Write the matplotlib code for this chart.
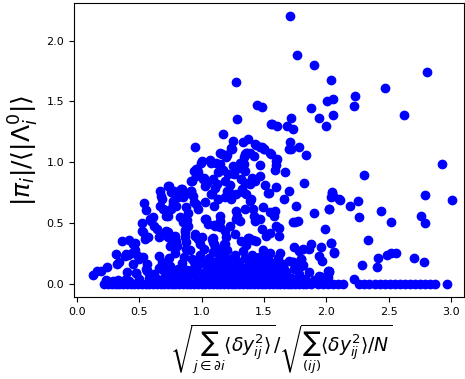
import numpy as np
import matplotlib
matplotlib.use('Agg')
import matplotlib.pyplot as plt

# points that sit exactly on zero
x_zero = [0.22, 0.25, 0.28, 0.31, 0.34, 0.37, 0.40, 0.43, 0.46, 0.49, 0.52, 0.55,
          0.58, 0.61, 0.64, 0.67, 0.70, 0.73, 0.76, 0.79, 0.82, 0.85, 0.88, 0.91,
          0.94, 0.97, 1.00, 1.03, 1.06, 1.09, 1.12, 1.15, 1.18, 1.21, 1.24, 1.27,
          1.30, 1.33, 1.36, 1.39, 1.42, 1.45, 1.48, 1.51, 1.54, 1.57, 1.60, 1.63,
          1.66, 1.69, 1.72, 1.75, 1.78, 1.81, 1.84, 1.88, 1.93, 1.97, 2.01, 2.05,
          2.09, 2.13, 2.26, 2.30, 2.34, 2.39, 2.43, 2.47, 2.51, 2.55, 2.59, 2.63,
          2.67, 2.71, 2.75, 2.79, 2.83, 2.87, 2.97]

# dense band just above zero
x_low = [0.13, 0.16, 0.19, 0.23, 0.26, 0.29, 0.33, 0.36, 0.39, 0.42, 0.40, 0.34, 0.45,
         0.47, 0.50, 0.55, 0.56, 0.56, 0.58, 0.61, 0.62, 0.64, 0.66, 0.66, 0.68, 0.70,
         0.72, 0.74, 0.75, 0.77, 0.78, 0.79, 0.81, 0.82, 0.84, 0.86, 0.87, 0.88, 0.91,
         0.92, 0.94, 0.95, 0.96, 0.98, 0.99, 1.01, 1.02, 1.03, 1.04, 1.05, 1.06, 1.07,
         1.08, 1.09, 1.10, 1.11, 1.12, 1.13, 1.14, 1.15, 1.16, 1.17, 1.18, 1.19, 1.20,
         1.21, 1.22, 1.23, 1.24, 1.25, 1.26, 1.27, 1.28, 1.29, 1.30, 1.31, 1.32, 1.33,
         1.34, 1.35, 1.36, 1.37, 1.38, 1.39, 1.40, 1.41, 1.42, 1.43, 1.44, 1.45, 1.46,
         1.47, 1.48, 1.49, 1.50, 1.51, 1.52, 1.53, 1.54, 1.55, 1.56, 1.57, 1.58, 1.60,
         1.61, 1.62, 1.64, 1.65, 1.67, 1.68, 1.70, 1.72, 1.74, 1.76, 1.78, 1.80, 1.83,
         1.86, 1.90, 1.94, 2.00, 0.98, 1.03, 1.08, 1.13, 1.18, 1.23, 1.28, 1.33, 1.38,
         1.43, 1.48, 1.53, 1.58, 1.63, 1.45, 1.35, 1.25, 1.15, 1.05, 0.93, 0.85, 0.76,
         0.69, 1.40, 1.50, 1.20, 1.10, 1.30, 1.55, 1.60, 1.66, 0.24, 0.32, 0.47, 0.56,
         2.22, 2.02, 2.01, 1.96, 1.73, 1.80, 1.81]
y_low = [0.074, 0.101, 0.107, 0.035, 0.015, 0.02, 0.03, 0.015, 0.04, 0.02, 0.10, 0.18,
         0.16, 0.09, 0.04, 0.12, 0.16, 0.11, 0.05, 0.02, 0.08, 0.04, 0.23, 0.13, 0.18,
         0.05, 0.10, 0.21, 0.15, 0.03, 0.08, 0.25, 0.12, 0.06, 0.17, 0.22, 0.03, 0.11,
         0.07, 0.20, 0.18, 0.14, 0.04, 0.09, 0.24, 0.02, 0.29, 0.18, 0.12, 0.06, 0.21,
         0.03, 0.15, 0.26, 0.09, 0.04, 0.19, 0.12, 0.07, 0.23, 0.02, 0.16, 0.10, 0.05,
         0.28, 0.13, 0.03, 0.20, 0.08, 0.15, 0.05, 0.24, 0.11, 0.02, 0.18, 0.07, 0.13,
         0.27, 0.04, 0.21, 0.09, 0.15, 0.02, 0.11, 0.24, 0.06, 0.18, 0.13, 0.03, 0.09,
         0.22, 0.15, 0.05, 0.28, 0.11, 0.19, 0.02, 0.08, 0.14, 0.25, 0.05, 0.17, 0.10,
         0.03, 0.21, 0.12, 0.07, 0.16, 0.03, 0.10, 0.19, 0.05, 0.12, 0.02, 0.08, 0.15,
         0.04, 0.10, 0.03, 0.06, 0.02, 0.16, 0.10, 0.06, 0.17, 0.21, 0.12, 0.18, 0.09,
         0.17, 0.07, 0.19, 0.23, 0.16, 0.25, 0.04, 0.03, 0.01, 0.12, 0.15, 0.12, 0.08,
         0.05, 0.11, 0.14, 0.06, 0.07, 0.13, 0.11, 0.01, 0.09, 0.12, 0.137, 0.166,
         0.09, 0.109, 0.041, 0.109, 0.055, 0.055, 0.178, 0.205, 0.156]

# middle of the cloud
x_mid = [0.317, 0.365, 0.419, 0.387, 0.413, 0.451, 0.467, 0.491, 0.499, 0.531, 0.464,
         0.445, 0.397, 0.536, 0.557, 0.52, 0.525, 0.547, 0.571, 0.531, 0.589, 0.611,
         0.597, 0.616, 0.643, 0.659, 0.664, 0.664, 0.675, 0.664, 0.685, 0.691, 0.704,
         0.712, 0.739, 0.776, 0.717, 0.733, 0.744, 0.771, 0.797, 0.792, 0.803, 0.845,
         0.851, 0.872, 0.891, 0.883, 0.869, 0.864, 0.877, 0.917, 0.931, 0.936, 0.925,
         0.952, 0.944, 0.957, 0.971, 0.997, 1.011, 1.024, 1.032, 0.757, 0.811, 0.864,
         0.771, 0.752, 0.731, 0.957, 0.971, 1.024, 1.077, 1.099, 1.237, 1.277, 1.331,
         1.384, 1.344, 1.285, 0.824, 0.851, 0.891, 0.869, 1.024, 1.051, 1.104, 1.144,
         1.184, 1.224, 0.731, 0.757, 0.784, 0.797, 0.877, 0.904, 0.944, 0.971, 1.085,
         1.099, 1.144, 1.179, 1.315, 1.355, 1.37, 1.237, 1.205, 1.163, 1.197, 1.349,
         1.339, 1.339, 1.344, 1.005, 1.077, 1.117, 0.96, 0.939, 1.144, 1.171, 1.131,
         1.211, 1.251, 1.277, 1.259, 1.019, 1.045, 0.917, 1.091, 1.125, 1.104, 1.184,
         1.224, 1.205, 1.312, 1.349, 1.384, 1.403, 0.731, 0.779, 0.837, 0.912, 1.424,
         1.419, 1.384, 1.597, 1.592, 1.584, 1.469, 1.672, 1.424, 1.469, 1.504, 1.592,
         1.824, 1.699, 1.531, 2.045, 1.304, 1.331, 1.085, 1.131, 1.184, 1.219, 1.325,
         1.357, 1.397, 1.539, 1.664, 1.757, 1.904, 2.019, 2.037, 1.992, 1.771, 1.752,
         1.096, 1.144, 1.149, 1.272, 1.277, 1.304, 1.411, 1.416, 1.424, 1.464, 1.491,
         1.544, 1.584, 1.576, 1.592, 1.485, 1.517, 1.544, 1.624, 1.619, 1.264, 1.197,
         1.184, 1.089, 1.089, 1.109, 1.0, 0.987, 1.379, 1.411, 1.437, 2.104, 1.731,
         2.037, 2.064, 1.877, 1.864, 1.957, 1.944, 1.965, 1.744, 1.784, 1.81, 1.731,
         1.797, 1.805, 2.011, 1.957]
y_mid = [0.248, 0.35, 0.363, 0.227, 0.238, 0.328, 0.281, 0.232, 0.2, 0.219, 0.336,
         0.251, 0.246, 0.664, 0.607, 0.5, 0.437, 0.369, 0.383, 0.424, 0.533, 0.546,
         0.519, 0.478, 0.451, 0.383, 0.396, 0.765, 0.719, 0.642, 0.697, 0.615, 0.607,
         0.56, 0.806, 0.757, 0.437, 0.383, 0.314, 0.683, 0.642, 0.355, 0.314, 0.779,
         0.711, 0.628, 0.582, 0.527, 0.443, 0.383, 0.287, 0.765, 0.724, 0.67, 0.847,
         0.883, 0.41, 0.943, 0.92, 0.997, 0.861, 0.806, 0.533, 0.752, 0.711, 0.738,
         0.656, 0.615, 0.56, 0.656, 0.615, 0.67, 0.738, 0.642, 0.697, 0.738, 0.752,
         0.683, 0.615, 0.56, 0.546, 0.506, 0.478, 0.424, 0.533, 0.492, 0.478, 0.465,
         0.437, 0.478, 0.424, 0.369, 0.396, 0.328, 0.342, 0.279, 0.396, 0.369, 0.369,
         0.328, 0.287, 0.328, 0.356, 0.315, 0.38, 1.115, 1.057, 1.071, 1.039, 1.071,
         1.039, 0.984, 0.929, 1.011, 0.997, 0.992, 0.943, 0.924, 0.984, 0.934, 0.916,
         0.902, 0.97, 0.943, 0.902, 0.869, 0.833, 0.842, 0.861, 0.825, 0.792, 0.842,
         0.814, 0.765, 0.861, 0.833, 0.82, 0.874, 0.806, 0.765, 0.779, 0.76, 1.148,
         1.052, 1.079, 1.011, 0.979, 0.934, 0.975, 0.916, 0.842, 0.888, 0.814, 0.8,
         0.83, 0.76, 0.743, 0.751, 0.997, 0.943, 0.738, 0.697, 0.711, 0.752, 0.779,
         0.738, 0.697, 0.746, 0.697, 0.642, 0.582, 0.615, 0.711, 0.451, 0.519, 0.506,
         0.484, 0.56, 0.519, 0.601, 0.533, 0.519, 0.615, 0.56, 0.519, 0.533, 0.63,
         0.59, 0.601, 0.56, 0.478, 0.451, 0.396, 0.418, 0.459, 0.396, 0.41, 0.383,
         0.328, 0.377, 0.344, 0.303, 0.383, 0.328, 0.374, 0.363, 0.355, 0.697, 0.506,
         0.336, 0.26, 0.328, 0.287, 0.3, 0.232, 0.184, 0.3, 0.273, 0.287, 0.178,
         0.205, 0.156, 0.109, 0.055]

# sparse upper and right points
x_high = [1.277, 1.443, 1.483, 1.285, 1.171, 1.251, 1.331, 1.373, 0.949, 1.432, 1.464,
          1.496, 1.544, 1.555, 1.24, 1.149, 1.197, 1.064, 1.363, 1.707, 1.765, 1.899,
          2.04, 2.808, 2.467, 1.88, 2.005, 2.056, 2.232, 2.219, 2.621, 1.72, 1.944,
          2.053, 2.0, 1.565, 1.6, 1.688, 1.733, 1.709, 1.715, 1.784, 1.837, 1.485,
          1.5, 1.555, 1.603, 1.704, 1.357, 2.925, 2.301, 2.045, 2.056, 2.112, 2.192,
          2.256, 2.024, 2.789, 3.008, 2.259, 2.435, 2.517, 2.757, 2.789, 2.333, 2.037,
          2.064, 2.411, 2.408, 2.488, 2.517, 2.555, 2.704, 2.784, 2.283, 2.024]
y_high = [1.664, 1.473, 1.457, 1.355, 1.235, 1.175, 1.167, 1.191, 1.125, 1.145, 1.129,
          1.112, 1.074, 1.311, 1.109, 1.074, 1.057, 1.019, 1.079, 2.2, 1.885, 1.8,
          1.68, 1.746, 1.609, 1.445, 1.506, 1.522, 1.544, 1.465, 1.391, 1.361, 1.361,
          1.391, 1.3, 1.314, 1.3, 1.3, 1.27, 1.17, 1.109, 1.125, 1.061, 1.128,
          1.109, 1.071, 1.03, 1.107, 1.074, 0.986, 0.899, 0.746, 0.719, 0.689, 0.637,
          0.683, 0.615, 0.727, 0.689, 0.549, 0.596, 0.506, 0.557, 0.497, 0.361, 0.339,
          0.254, 0.211, 0.137, 0.24, 0.254, 0.257, 0.213, 0.18, 0.153, 0.096]

fig = plt.figure(figsize=(4.65, 3.79), dpi=100)
ax = fig.add_axes([0.159, 0.216, 0.838, 0.776])
ax.plot(x_zero, np.zeros(len(x_zero)), 'bo')
ax.plot(x_low, y_low, 'bo')
ax.plot(x_mid, y_mid, 'bo')
ax.plot(x_high, y_high, 'bo')
ax.set_xlim(-0.024, 3.1)
ax.set_ylim(-0.11, 2.31)
ax.set_xticks([0.0, 0.5, 1.0, 1.5, 2.0, 2.5, 3.0])
ax.set_yticks([0.0, 0.5, 1.0, 1.5, 2.0])
ax.tick_params(labelsize=8)
ax.set_xlabel(r'$\sqrt{\sum_{j\in\partial i}\langle\delta y_{ij}^2\rangle}/\sqrt{\sum_{(ij)}\langle\delta y_{ij}^2\rangle/N}$',
              fontsize=13.5)
ax.xaxis.label.set_x(0.532)
ax.set_ylabel(r'$|\pi_i|/\langle|\Lambda_i^0|\rangle$', fontsize=18)
fig.savefig('out.png', dpi=100)
